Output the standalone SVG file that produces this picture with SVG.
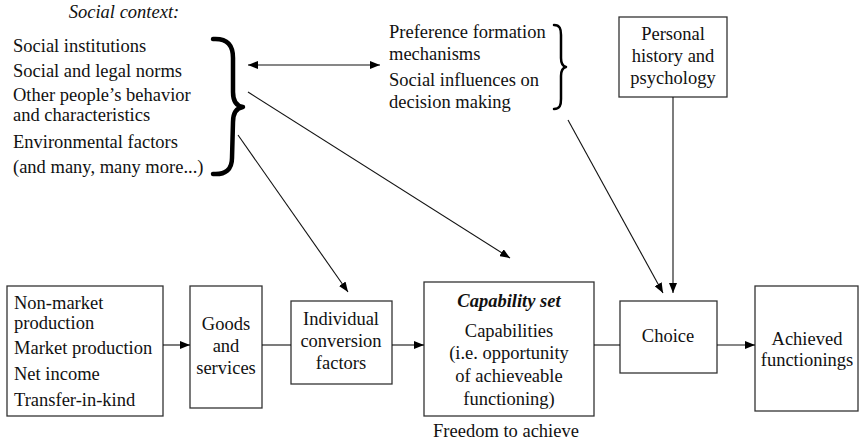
<svg xmlns="http://www.w3.org/2000/svg" width="859" height="441" viewBox="0 0 859 441">
<style>
.box{fill:#fff;stroke:#333;stroke-width:1.3}
.ln{fill:none;stroke:#111;stroke-width:1.1}
.brace{fill:none;stroke:#000;stroke-linecap:round;stroke-linejoin:round}
</style>
<defs>
<marker id="ah" viewBox="0 0 10 8" refX="10" refY="4" markerWidth="10" markerHeight="8" markerUnits="userSpaceOnUse" orient="auto-start-reverse">
<path d="M0,0 L10,4 L0,8 z" fill="#000"/>
</marker>
</defs>
<rect width="859" height="441" fill="#fff"/>
<g id="social-context">
<text x="124" y="18" text-anchor="middle" font-style="italic" font-family="Liberation Serif, serif" font-size="18.5" fill="#111">Social context:</text>
<text x="13" y="52" font-family="Liberation Serif, serif" font-size="18.5" fill="#111">Social institutions</text>
<text x="13" y="77" font-family="Liberation Serif, serif" font-size="18.5" fill="#111">Social and legal norms</text>
<text x="13" y="101" font-family="Liberation Serif, serif" font-size="18.5" fill="#111">Other people’s behavior</text>
<text x="13" y="121" font-family="Liberation Serif, serif" font-size="18.5" fill="#111">and characteristics</text>
<text x="13" y="148" font-family="Liberation Serif, serif" font-size="18.5" fill="#111">Environmental factors</text>
<text x="13" y="173" font-family="Liberation Serif, serif" font-size="18.5" fill="#111">(and many, many more...)</text>
<path class="brace" stroke-width="4.5" d="M213,39 C228,38 233,46 233,58 L233,92 C233,100 236,106 243,107 C236,108 233,114 233,122 L232,158 C232,169 226,175 213,174"/>
</g>
<g id="preference">
<text x="389" y="38" font-family="Liberation Serif, serif" font-size="18.5" fill="#111">Preference formation</text>
<text x="389" y="60" font-family="Liberation Serif, serif" font-size="18.5" fill="#111">mechanisms</text>
<text x="389" y="86" font-family="Liberation Serif, serif" font-size="18.5" fill="#111">Social influences on</text>
<text x="389" y="108" font-family="Liberation Serif, serif" font-size="18.5" fill="#111">decision making</text>
<path class="brace" stroke-width="2.5" d="M554,25 C560,25 561,29 561,35 L561,58 C561,63 562,66 566,67 C562,68 561,71 561,76 L561,99 C561,105 560,109 554,109"/>
</g>
<g id="personal-history">
<rect class="box" x="619" y="17" width="108" height="80"/>
<text x="673" y="40" text-anchor="middle" font-family="Liberation Serif, serif" font-size="18.5" fill="#111">Personal</text>
<text x="673" y="62" text-anchor="middle" font-family="Liberation Serif, serif" font-size="18.5" fill="#111">history and</text>
<text x="673" y="84" text-anchor="middle" font-family="Liberation Serif, serif" font-size="18.5" fill="#111">psychology</text>
</g>
<g id="resources">
<rect class="box" x="7" y="286" width="156" height="130"/>
<text x="14" y="309" font-family="Liberation Serif, serif" font-size="18.5" fill="#111">Non-market</text>
<text x="14" y="329" font-family="Liberation Serif, serif" font-size="18.5" fill="#111">production</text>
<text x="14" y="354" font-family="Liberation Serif, serif" font-size="18.5" fill="#111">Market production</text>
<text x="14" y="380" font-family="Liberation Serif, serif" font-size="18.5" fill="#111">Net income</text>
<text x="14" y="406" font-family="Liberation Serif, serif" font-size="18.5" fill="#111">Transfer-in-kind</text>
</g>
<g id="goods">
<rect class="box" x="190" y="286" width="72" height="122"/>
<text x="226" y="330" text-anchor="middle" font-family="Liberation Serif, serif" font-size="18.5" fill="#111">Goods</text>
<text x="226" y="352" text-anchor="middle" font-family="Liberation Serif, serif" font-size="18.5" fill="#111">and</text>
<text x="226" y="374" text-anchor="middle" font-family="Liberation Serif, serif" font-size="18.5" fill="#111">services</text>
</g>
<g id="conversion">
<rect class="box" x="291" y="301" width="101" height="83"/>
<text x="341" y="325" text-anchor="middle" font-family="Liberation Serif, serif" font-size="18.5" fill="#111">Individual</text>
<text x="341" y="347" text-anchor="middle" font-family="Liberation Serif, serif" font-size="18.5" fill="#111">conversion</text>
<text x="341" y="369" text-anchor="middle" font-family="Liberation Serif, serif" font-size="18.5" fill="#111">factors</text>
</g>
<g id="capability-set">
<rect class="box" x="424" y="282" width="170" height="134"/>
<text x="509" y="307" text-anchor="middle" font-weight="bold" font-style="italic" font-family="Liberation Serif, serif" font-size="18.5" fill="#111">Capability set</text>
<text x="509" y="337" text-anchor="middle" font-family="Liberation Serif, serif" font-size="18.5" fill="#111">Capabilities</text>
<text x="509" y="359" text-anchor="middle" font-family="Liberation Serif, serif" font-size="18.5" fill="#111">(i.e. opportunity</text>
<text x="509" y="382" text-anchor="middle" font-family="Liberation Serif, serif" font-size="18.5" fill="#111">of achieveable</text>
<text x="509" y="405" text-anchor="middle" font-family="Liberation Serif, serif" font-size="18.5" fill="#111">functioning)</text>
<text x="506" y="437" text-anchor="middle" font-family="Liberation Serif, serif" font-size="18.5" fill="#111">Freedom to achieve</text>
</g>
<g id="choice">
<rect class="box" x="620" y="301" width="97" height="72"/>
<text x="668" y="342" text-anchor="middle" font-family="Liberation Serif, serif" font-size="18.5" fill="#111">Choice</text>
</g>
<g id="achieved">
<rect class="box" x="755" y="286" width="103" height="125"/>
<text x="807" y="345" text-anchor="middle" font-family="Liberation Serif, serif" font-size="18.5" fill="#111">Achieved</text>
<text x="807" y="366" text-anchor="middle" font-family="Liberation Serif, serif" font-size="18.5" fill="#111">functionings</text>
</g>
<g id="connectors">
<line class="ln" x1="163" y1="345" x2="190" y2="345" marker-end="url(#ah)"/>
<line class="ln" x1="262" y1="345" x2="291" y2="345"/>
<line class="ln" x1="392" y1="345" x2="424" y2="345" marker-end="url(#ah)"/>
<line class="ln" x1="594" y1="345" x2="620" y2="345"/>
<line class="ln" x1="717" y1="345" x2="755" y2="345" marker-end="url(#ah)"/>
<line class="ln" x1="248" y1="65" x2="380" y2="65" marker-start="url(#ah)" marker-end="url(#ah)"/>
<line class="ln" x1="248" y1="92" x2="510" y2="258" marker-end="url(#ah)"/>
<line class="ln" x1="238" y1="135" x2="348" y2="292" marker-end="url(#ah)"/>
<line class="ln" x1="568" y1="120" x2="663" y2="293" marker-end="url(#ah)"/>
<line class="ln" x1="673" y1="97" x2="673" y2="293" marker-end="url(#ah)"/>
</g>
</svg>
